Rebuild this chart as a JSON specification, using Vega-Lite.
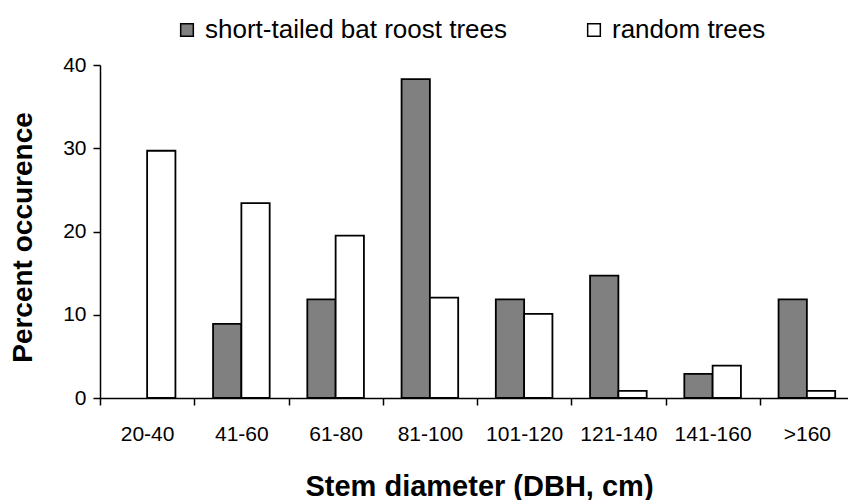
{
  "$schema": "https://vega.github.io/schema/vega-lite/v6.json",
  "width": 748,
  "height": 333,
  "autosize": "none",
  "padding": {"left": 100, "top": 65, "right": 0, "bottom": 102},
  "background": "white",
  "config": {
    "view": {"stroke": null},
    "font": "Liberation Sans",
    "axis": {"grid": false, "domainColor": "black", "tickColor": "black", "domainWidth": 1.5, "tickWidth": 1.5, "labelColor": "black", "titleColor": "black", "labelFont": "Liberation Sans", "titleFont": "Liberation Sans"}
  },
  "data": {
    "values": [
      {"dbh": "20-40", "group": "random trees", "percent": 29.7},
      {"dbh": "41-60", "group": "short-tailed bat roost trees", "percent": 8.9},
      {"dbh": "41-60", "group": "random trees", "percent": 23.4},
      {"dbh": "61-80", "group": "short-tailed bat roost trees", "percent": 11.85},
      {"dbh": "61-80", "group": "random trees", "percent": 19.5},
      {"dbh": "81-100", "group": "short-tailed bat roost trees", "percent": 38.3},
      {"dbh": "81-100", "group": "random trees", "percent": 12.05},
      {"dbh": "101-120", "group": "short-tailed bat roost trees", "percent": 11.85},
      {"dbh": "101-120", "group": "random trees", "percent": 10.1},
      {"dbh": "121-140", "group": "short-tailed bat roost trees", "percent": 14.7},
      {"dbh": "121-140", "group": "random trees", "percent": 0.85},
      {"dbh": "141-160", "group": "short-tailed bat roost trees", "percent": 2.9},
      {"dbh": "141-160", "group": "random trees", "percent": 3.9},
      {"dbh": ">160", "group": "short-tailed bat roost trees", "percent": 11.85},
      {"dbh": ">160", "group": "random trees", "percent": 0.85}
    ]
  },
  "mark": {"type": "bar", "stroke": "black", "strokeWidth": 1.8, "opacity": 1},
  "encoding": {
    "x": {
      "field": "dbh",
      "type": "nominal",
      "sort": ["20-40", "41-60", "61-80", "81-100", "101-120", "121-140", "141-160", ">160"],
      "scale": {"range": [0, 754], "paddingInner": 0, "paddingOuter": 0},
      "axis": {
        "title": "Stem diameter (DBH, cm)",
        "titleFontSize": 29,
        "titleFontWeight": "bold",
        "titleX": 379,
        "titleY": 97,
        "titleBaseline": "alphabetic",
        "titleAnchor": "middle",
        "titleAlign": "center",
        "labelFontSize": 21,
        "labelAngle": 0,
        "labelPadding": 18,
        "tickSize": 7,
        "tickBand": "extent"
      }
    },
    "xOffset": {
      "field": "group",
      "type": "nominal",
      "sort": ["short-tailed bat roost trees", "random trees"],
      "scale": {"paddingInner": 0, "paddingOuter": 0.665}
    },
    "y": {
      "field": "percent",
      "type": "quantitative",
      "scale": {"domain": [0, 40], "nice": false},
      "axis": {
        "title": "Percent occurence",
        "titleFontSize": 28,
        "titleFontWeight": "bold",
        "titleAngle": -90,
        "titleX": -77,
        "titleY": 172,
        "titleBaseline": "middle",
        "titleAlign": "center",
        "values": [0, 10, 20, 30, 40],
        "labelFontSize": 21,
        "labelPadding": 7,
        "tickSize": 7
      }
    },
    "color": {
      "field": "group",
      "type": "nominal",
      "scale": {"domain": ["short-tailed bat roost trees", "random trees"], "range": ["#808080", "#ffffff"]},
      "legend": {
        "title": null,
        "orient": "none",
        "direction": "horizontal",
        "legendX": 74,
        "legendY": -48,
        "padding": 0,
        "symbolType": "square",
        "symbolSize": 160,
        "symbolStrokeColor": "black",
        "symbolStrokeWidth": 1.5,
        "symbolOpacity": 1,
        "labelFontSize": 26,
        "labelOffset": 5,
        "labelColor": "black",
        "labelLimit": 400,
        "columnPadding": 73
      }
    }
  }
}
